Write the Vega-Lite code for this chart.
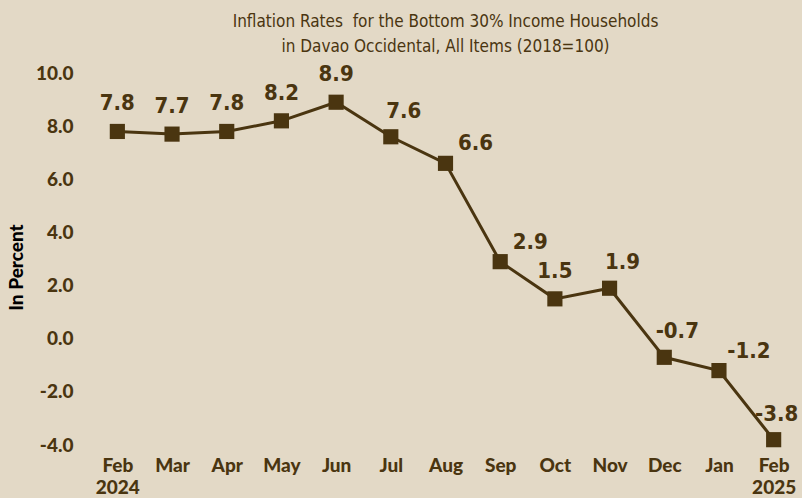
{
  "$schema": "https://vega.github.io/schema/vega-lite/v6.json",
  "autosize": "none",
  "width": 711,
  "height": 372,
  "padding": {"left": 90, "top": 73, "right": 1, "bottom": 53},
  "background": "#e3d9c6",
  "config": {
    "view": {"stroke": null},
    "locale": {"number": {"decimal": ".", "thousands": ",", "grouping": [3], "currency": ["", ""], "minus": "-"}}
  },
  "title": {
    "text": ["Inflation Rates\u00a0 for the Bottom 30% Income Households\u00a0\u00a0\u00a0\u00a0", "in Davao Occidental, All Items (2018=100)"],
    "font": "DejaVu Sans Condensed",
    "fontSize": 17,
    "fontWeight": "normal",
    "color": "#4a3510",
    "lineHeight": 25,
    "anchor": "middle",
    "offset": 7
  },
  "data": {
    "values": [
      {"month": "Feb 2024", "rate": 7.8},
      {"month": "Mar", "rate": 7.7},
      {"month": "Apr", "rate": 7.8},
      {"month": "May", "rate": 8.2},
      {"month": "Jun", "rate": 8.9},
      {"month": "Jul", "rate": 7.6},
      {"month": "Aug", "rate": 6.6},
      {"month": "Sep", "rate": 2.9},
      {"month": "Oct", "rate": 1.5},
      {"month": "Nov", "rate": 1.9},
      {"month": "Dec", "rate": -0.7},
      {"month": "Jan", "rate": -1.2},
      {"month": "Feb 2025", "rate": -3.8}
    ]
  },
  "encoding": {
    "x": {
      "field": "month",
      "type": "ordinal",
      "sort": null,
      "scale": {"type": "point", "padding": 0.5},
      "axis": {
        "title": null,
        "labelAngle": 0,
        "domain": false,
        "ticks": false,
        "labelPadding": 11,
        "labelFont": "Lato",
        "labelFontWeight": 900,
        "labelFontSize": 19,
        "labelColor": "#4a3510",
        "labelLineHeight": 22,
        "labelExpr": "datum.value == 'Feb 2024' ? ['Feb', '2024'] : datum.value == 'Feb 2025' ? ['Feb', '2025'] : datum.value"
      }
    },
    "y": {
      "field": "rate",
      "type": "quantitative",
      "scale": {"domain": [-4, 10], "nice": false, "zero": false},
      "axis": {
        "title": "In Percent",
        "titleFont": "Lato",
        "titleFontWeight": 900,
        "titleFontSize": 19,
        "titleColor": "#000000",
        "titlePadding": 9,
        "titleY": 194,
        "values": [-4, -2, 0, 2, 4, 6, 8, 10],
        "format": ".1f",
        "grid": false,
        "domain": false,
        "ticks": false,
        "labelPadding": 17,
        "labelFont": "Lato",
        "labelFontWeight": 900,
        "labelFontSize": 19,
        "labelColor": "#4a3510"
      }
    }
  },
  "layer": [
    {"mark": {"type": "line", "color": "#4a3510", "strokeWidth": 3}},
    {"mark": {"type": "point", "shape": "square", "filled": true, "opacity": 1, "size": 230, "color": "#4a3510"}},
    {
      "transform": [{"filter": "indexof(['Feb 2024','Mar','Apr','May','Jun','Oct'], datum.month) >= 0"}],
      "mark": {"type": "text", "font": "DejaVu Sans Condensed", "fontWeight": "bold", "fontSize": 22, "color": "#4a3510", "dy": -28},
      "encoding": {"text": {"field": "rate", "type": "quantitative", "format": ".1f"}}
    },
    {
      "transform": [{"filter": "indexof(['Aug','Sep','Jan'], datum.month) >= 0"}],
      "mark": {"type": "text", "font": "DejaVu Sans Condensed", "fontWeight": "bold", "fontSize": 22, "color": "#4a3510", "dx": 30, "dy": -20},
      "encoding": {"text": {"field": "rate", "type": "quantitative", "format": ".1f"}}
    },
    {
      "transform": [{"filter": "indexof(['Jul','Nov','Dec'], datum.month) >= 0"}],
      "mark": {"type": "text", "font": "DejaVu Sans Condensed", "fontWeight": "bold", "fontSize": 22, "color": "#4a3510", "dx": 13, "dy": -26},
      "encoding": {"text": {"field": "rate", "type": "quantitative", "format": ".1f"}}
    },
    {
      "transform": [{"filter": "datum.month == 'Feb 2025'"}],
      "mark": {"type": "text", "font": "DejaVu Sans Condensed", "fontWeight": "bold", "fontSize": 22, "color": "#4a3510", "dx": 3, "dy": -26},
      "encoding": {"text": {"field": "rate", "type": "quantitative", "format": ".1f"}}
    }
  ]
}
